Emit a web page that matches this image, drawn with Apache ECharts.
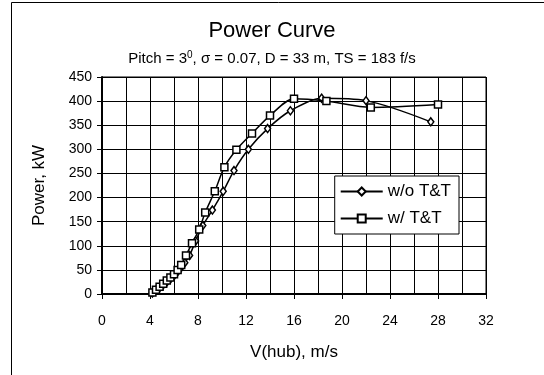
<!DOCTYPE html>
<html><head><meta charset="utf-8">
<script src="https://cdn.jsdelivr.net/npm/echarts@6/dist/echarts.min.js"></script>
<style>html,body{margin:0;padding:0;background:#fff}#c{width:544px;height:375px}</style>
</head><body><div id="c"></div>
<script>
const xTicks = [0, 4, 8, 12, 16, 20, 24, 28, 32];
const yTicks = [0, 50, 100, 150, 200, 250, 300, 350, 400, 450];

const woSpeed = [4.2, 4.5, 4.8, 5.1, 5.4, 5.7, 6.0, 6.3, 6.6, 6.9, 7.3, 7.8, 8.4, 9.2, 10.1, 11.0, 12.2, 13.8, 15.7, 18.3, 22.0, 27.4];
const woPower = [2, 8, 13, 19, 25, 31, 38, 46, 55, 65, 80, 110, 142, 174, 213, 256, 300, 343, 380, 406, 401, 357];

const wSpeed = [4.2, 4.5, 4.8, 5.1, 5.4, 5.7, 6.0, 6.3, 6.6, 7.0, 7.5, 8.1, 8.6, 9.4, 10.2, 11.2, 12.5, 14.0, 16.0, 18.7, 22.4, 28.0];
const wPower = [3, 9, 15, 21, 28, 34, 41, 50, 60, 80, 105, 134, 169, 213, 263, 299, 333, 370, 405, 400, 387, 393];

const seriesNames = ['w/o T&T', 'w/ T&T'];

const font = 'Liberation Sans, Arial, sans-serif';
const chart = echarts.init(document.getElementById('c'), null, {renderer: 'canvas'});
chart.setOption({
  animation: false,
  backgroundColor: '#fff',
  graphic: [{
    type: 'rect', shape: {x: 11.5, y: 2.5, width: 700, height: 700},
    style: {fill: 'none', stroke: '#000', lineWidth: 1}, silent: true
  }],
  title: [{
    text: 'Power Curve', left: 'center', top: 15,
    textStyle: {fontFamily: font, fontSize: 22, fontWeight: 'normal', color: '#000'}
  }, {
    text: 'Pitch = 3{sup|0}, σ = 0.07, D = 33 m, TS = 183 f/s', left: 'center', top: 45,
    textStyle: {fontFamily: font, fontSize: 15, fontWeight: 'normal', color: '#000',
      rich: {sup: {fontFamily: font, fontSize: 10, verticalAlign: 'top', padding: [0, 0, 8, 0], color: '#000'}}}
  }],
  legend: {
    right: 85, top: 176, orient: 'vertical',
    backgroundColor: '#fff', borderColor: '#000', borderWidth: 1,
    padding: [7, 8, 7, 5], itemGap: 10, itemWidth: 42, itemHeight: 10,
    textStyle: {fontFamily: font, fontSize: 17, color: '#000'},
    data: seriesNames
  },
  grid: {left: 102, right: 58, top: 77, bottom: 81, show: true, borderColor: '#000', borderWidth: 1},
  xAxis: {
    type: 'value', min: 0, max: 32, interval: 4,
    name: 'V(hub), m/s', nameLocation: 'middle', nameGap: 50,
    nameTextStyle: {fontFamily: font, fontSize: 17, color: '#000'},
    axisLine: {lineStyle: {color: '#000', width: 2}},
    axisTick: {show: true, length: 5, lineStyle: {color: '#000'}},
    axisLabel: {fontFamily: font, fontSize: 14, color: '#000', margin: 20, formatter: v => xTicks.includes(v) ? String(v) : ''},
    splitLine: {show: true, lineStyle: {color: '#000', width: 1}},
    minorTick: {show: false, splitNumber: 2},
    minorSplitLine: {show: true, lineStyle: {color: '#000', width: 1}}
  },
  yAxis: {
    type: 'value', min: 0, max: 450, interval: 50,
    name: 'Power, kW', nameLocation: 'middle', nameGap: 54,
    nameTextStyle: {fontFamily: font, fontSize: 17, color: '#000'},
    axisLine: {show: true, lineStyle: {color: '#000', width: 2}},
    axisTick: {show: true, length: 5, lineStyle: {color: '#000'}},
    axisLabel: {fontFamily: font, fontSize: 14, color: '#000', margin: 10, formatter: v => yTicks.includes(v) ? String(v) : ''},
    splitLine: {show: true, lineStyle: {color: '#000', width: 1}}
  },
  series: [{
    name: seriesNames[0], type: 'line', smooth: 0.3,
    data: woSpeed.map((x, i) => [x, woPower[i]]),
    symbol: 'diamond', symbolSize: [6, 8],
    itemStyle: {color: '#fff', borderColor: '#000', borderWidth: 1.5},
    lineStyle: {color: '#000', width: 1.5}, z: 3
  }, {
    name: seriesNames[1], type: 'line', smooth: 0.3,
    data: wSpeed.map((x, i) => [x, wPower[i]]),
    symbol: 'rect', symbolSize: 7,
    itemStyle: {color: '#fff', borderColor: '#000', borderWidth: 1.5},
    lineStyle: {color: '#000', width: 1.5}, z: 4
  }]
});
</script></body></html>
